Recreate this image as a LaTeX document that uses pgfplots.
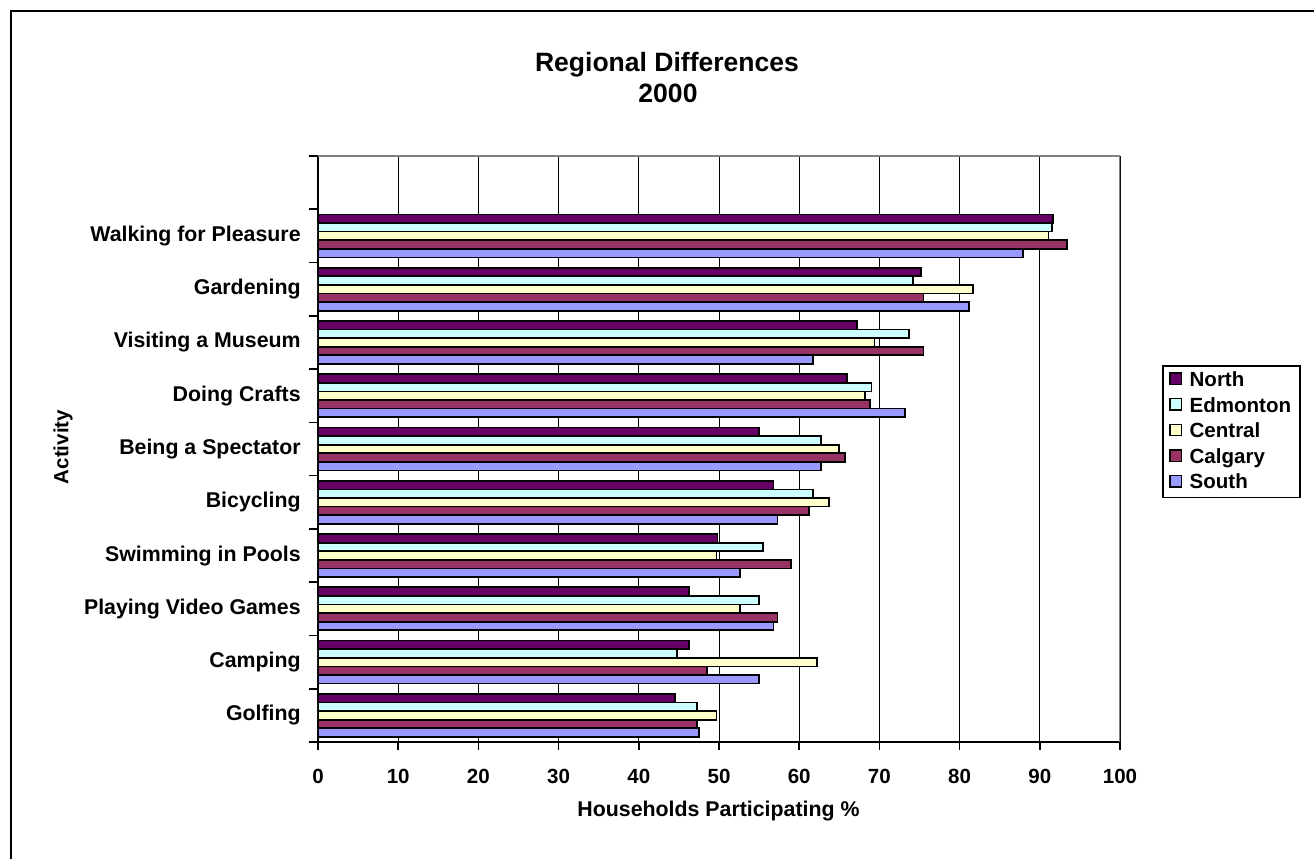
\documentclass[border=0pt]{standalone}
\usepackage{fontspec}
\setmainfont{Liberation Sans}
\usepackage{pgfplots}
\pgfplotsset{compat=1.18}
\definecolor{cNorth}{HTML}{660066}
\definecolor{cEdm}{HTML}{CCFFFF}
\definecolor{cCen}{HTML}{FFFFCC}
\definecolor{cCal}{HTML}{993366}
\definecolor{cSouth}{HTML}{9999FF}
\newcommand{\lblfont}{\fontsize{15.4}{18}\selectfont\bfseries}
\newcommand{\catfont}{\fontsize{16}{19}\selectfont\bfseries}
\begin{document}
\begin{tikzpicture}[x=0.75pt,y=-0.75pt]
\useasboundingbox (0,0) rectangle (1314,859);
\begin{scope}
\clip (0,0) rectangle (1314,859);
\draw[line width=1.5pt] (10.5,900) -- (10.5,11.3) -- (1400,11.3);
\end{scope}
\node[font=\fontsize{19.9}{23}\selectfont\bfseries, anchor=base] at (667,72) {Regional Differences};
\node[font=\fontsize{19.9}{23}\selectfont\bfseries, anchor=base] at (668,103) {2000};
\node[font=\catfont, anchor=base] at (718.5,816) {Households Participating \%};
\node[font=\lblfont, rotate=90] at (63,447) {Activity};
\begin{axis}[
  at={(238.5pt,-556.5pt)}, anchor=south west,
  scale only axis, width=601.5pt, height=439.5pt,
  xbar, bar width=6.45pt,
  xmin=0, xmax=100, ymin=-0.5, ymax=10.5,
  xtick={0,10,...,100},
  ytick={0,...,9},
  yticklabels={Golfing,Camping,Playing Video Games,Swimming in Pools,Bicycling,Being a Spectator,Doing Crafts,Visiting a Museum,Gardening,Walking for Pleasure},
  minor ytick={-0.5,0.5,...,10.5},
  axis x line*=bottom, axis y line*=left,
  axis line style={black, line width=1.2pt, -},
  xmajorgrids, major grid style={black, line width=0.75pt},
  tick align=outside,
  major tick length=6pt, minor tick length=7pt,
  major y tick style={draw=none},
  minor y tick style={draw=black, line width=1.2pt},
  major x tick style={draw=black, line width=1.2pt},
  /pgf/number format/assume math mode=true,
  xticklabel style={font=\lblfont, inner sep=0pt, anchor=north, yshift=-14.5pt},
  yticklabel style={font=\catfont, inner sep=0pt, anchor=east, xshift=-6.8pt},
  legend style={at={(1.0524,0.6433)}, anchor=north west, draw=black, line width=1.2pt,
    font=\lblfont, inner xsep=5pt, inner ysep=3pt, row sep=3.2pt,
    nodes={inner sep=1.5pt, text height=11pt, text depth=2pt},
    /tikz/every odd column/.append style={column sep=4pt}},
  legend cell align=left,
  legend image code/.code={\draw[#1, draw=black, line width=1.1pt] (0pt,-3pt) rectangle (8.5pt,5.5pt);},
]
\addplot[fill=cNorth, draw=black, line width=1.3pt, bar shift=12.9pt] coordinates {(91.6,9) (75.2,8) (67.2,7) (66.0,6) (55.0,5) (56.8,4) (49.8,3) (46.3,2) (46.3,1) (44.5,0)};
\addplot[fill=cEdm, draw=black, line width=1.3pt, bar shift=6.45pt] coordinates {(91.5,9) (74.2,8) (73.7,7) (69.0,6) (62.7,5) (61.7,4) (55.5,3) (55.0,2) (44.8,1) (47.3,0)};
\addplot[fill=cCen, draw=black, line width=1.3pt, bar shift=0pt] coordinates {(91.1,9) (81.7,8) (69.4,7) (68.2,6) (65.0,5) (63.7,4) (49.7,3) (52.6,2) (62.2,1) (49.7,0)};
\addplot[fill=cCal, draw=black, line width=1.3pt, bar shift=-6.45pt] coordinates {(93.4,9) (75.5,8) (75.5,7) (68.8,6) (65.7,5) (61.2,4) (59.0,3) (57.3,2) (48.5,1) (47.3,0)};
\addplot[fill=cSouth, draw=black, line width=1.3pt, bar shift=-12.9pt] coordinates {(87.9,9) (81.2,8) (61.7,7) (73.2,6) (62.7,5) (57.3,4) (52.6,3) (56.8,2) (55.0,1) (47.5,0)};
\legend{North,Edmonton,Central,Calgary,South}
\draw[gray, line width=1.2pt] (rel axis cs:0,1) -- (rel axis cs:1,1) -- (rel axis cs:1,0);
\end{axis}
\end{tikzpicture}
\end{document}
